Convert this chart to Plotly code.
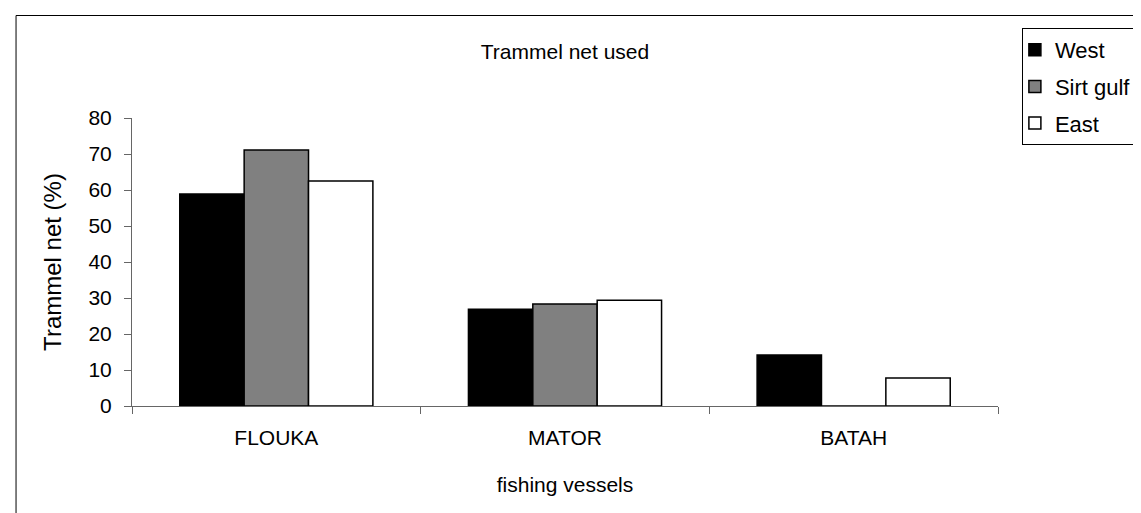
import plotly.graph_objects as go

categories = ["FLOUKA", "MATOR", "BATAH"]
west = [58.9, 26.9, 14.2]
sirt_gulf = [71.1, 28.3, 0]
east = [62.5, 29.4, 7.8]
series_names = ["West", "Sirt gulf", "East"]
y_ticks = [0, 10, 20, 30, 40, 50, 60, 70, 80]

W, H = 1141, 513
PL, PR, PT, PB = 124, 994, 110, 398  # plot area pixels
FONT = "Liberation Sans, Arial, sans-serif"

def px_x(p):
    return (p - PL) / (PR - PL)

def px_y(p):
    return (PB - p) / (PB - PT)

fig = go.Figure()
fills = ["#000000", "#808080", "#ffffff"]
for name, vals, col in zip(series_names, [west, sirt_gulf, east], fills):
    fig.add_trace(go.Bar(
        x=categories, y=vals, name=name, legendgroup=name,
        marker=dict(color=col, line=dict(color="#000000", width=1.5)),
    ))

fig.update_layout(
    width=W, height=H,
    margin=dict(l=PL, r=W - PR, t=PT, b=H - PB, pad=0),
    paper_bgcolor="white", plot_bgcolor="white",
    font=dict(family=FONT, size=21, color="black"),
    barmode="group", bargap=0.331, bargroupgap=0,
    title=dict(text="Trammel net used", x=0.5, xref="paper", xanchor="center",
               y=1 - 44 / H, yref="container", yanchor="middle",
               font=dict(size=21)),
    legend=dict(x=px_x(1018), y=px_y(20), xanchor="left", yanchor="top",
                bordercolor="black", borderwidth=1, bgcolor="white",
                traceorder="grouped", tracegroupgap=5, indentation=-8,
                font=dict(size=22), itemwidth=30),
    xaxis=dict(showline=True, linecolor="#666666", linewidth=1,
               ticks="outside", ticklen=7, tickcolor="#666666", tickson="boundaries",
               showgrid=False, ticklabelstandoff=13,
               tickfont=dict(size=21),
               title=dict(text="fishing vessels", standoff=29, font=dict(size=21))),
    yaxis=dict(range=[0, 80], tickvals=y_ticks, showline=True, linecolor="#666666",
               linewidth=1, ticks="outside", ticklen=7, tickcolor="#666666",
               showgrid=False, zeroline=False, ticklabelstandoff=8,
               tickfont=dict(size=21),
               title=dict(text="Trammel net (%)", standoff=20, font=dict(size=24))),
    shapes=[dict(type="rect", xref="paper", yref="paper",
                 x0=px_x(7.5), x1=px_x(1137.5), y0=px_y(515), y1=px_y(7.5),
                 line=dict(color="black", width=1), fillcolor="rgba(0,0,0,0)",
                 layer="below")],
)

fig.write_html("out.html")
